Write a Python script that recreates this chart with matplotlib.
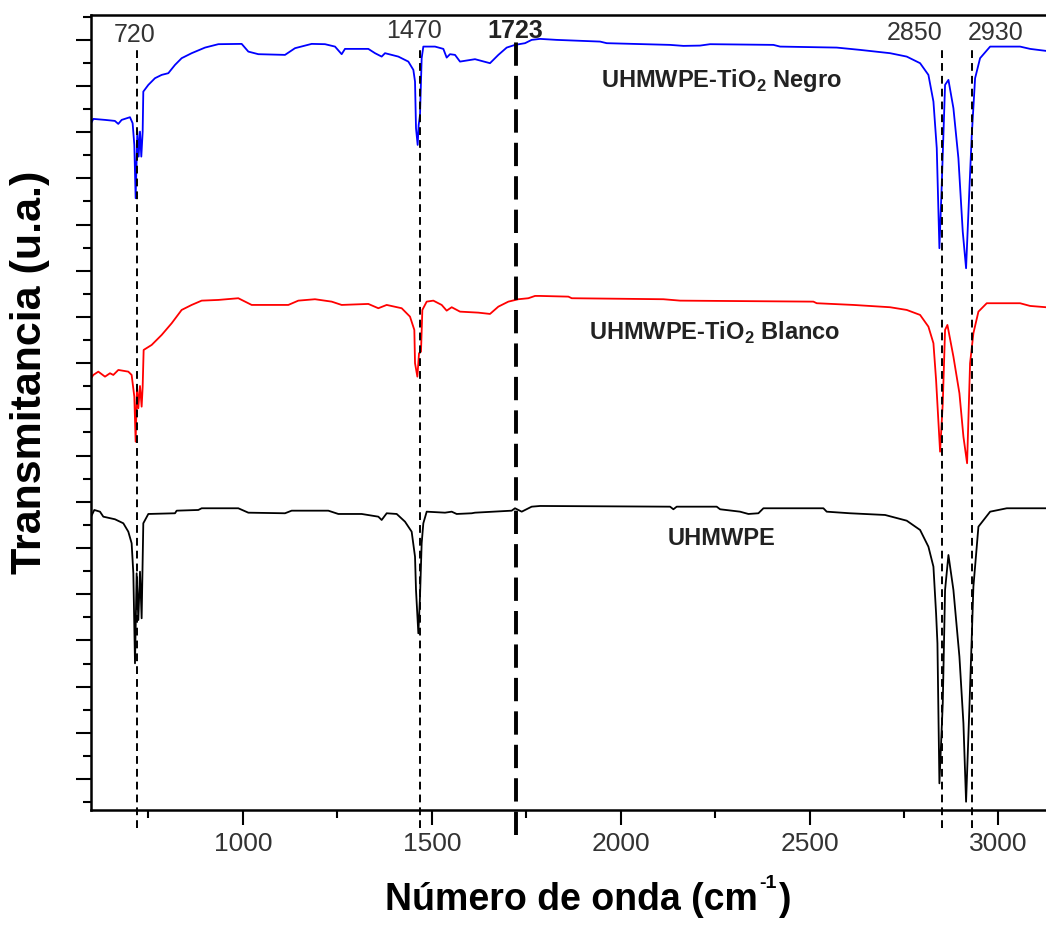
import matplotlib
matplotlib.use("Agg")
import matplotlib.pyplot as plt
from matplotlib.ticker import MultipleLocator

plt.rcParams["font.family"] = ["Liberation Sans", "DejaVu Sans"]
plt.rcParams["mathtext.fontset"] = "custom"
plt.rcParams["mathtext.rm"] = "Liberation Sans"
plt.rcParams["mathtext.bf"] = "Liberation Sans:bold"

# espectros FTIR (transmitancia en unidades arbitrarias, ya desplazados)
wn_negro = [598, 604, 635, 661, 670, 679, 701, 708, 712.5, 716, 720.5, 724, 727.5, 731,
            734.6, 736.3, 749.6, 767.2, 784.9, 802.5, 820.2, 837.8, 864.3, 899.6, 934.9,
            996.7, 1014.3, 1040.8, 1111.4, 1137.9, 1182, 1217.3, 1243.8, 1261.4, 1270.2,
            1332, 1349.7, 1367.3, 1376.2, 1411.4, 1437.9, 1451.2, 1455.6, 1458.2, 1462.6,
            1465.3, 1468.8, 1473.2, 1477.6, 1508.5, 1530.6, 1539.4, 1548.2, 1561.5, 1574.7,
            1614.4, 1654.1, 1676.2, 1698.3, 1720.3, 1746.8, 1764.4, 1786.6, 1830.7, 1945.5,
            1963.1, 2130.8, 2166.1, 2210.2, 2236.7, 2404.4, 2422, 2572, 2633.8, 2713.2,
            2757.3, 2792.7, 2814.7, 2828, 2836.8, 2843.8, 2850, 2858.8, 2867.7, 2880.9,
            2894.1, 2905.6, 2914.4, 2923.3, 2929.5, 2938.3, 2951.5, 2978.1, 3057.4, 3083.9,
            3126]
t_negro = [655.7, 660, 659, 658, 655, 659, 661.7, 655.7, 634, 580.7, 647.3, 622.3, 647.3, 622.3,
           647.3, 687.3, 694, 700.7, 704, 705.7, 714, 720.7, 725.7, 731.3, 734.7,
           735, 727.3, 724.7, 724, 730.7, 735, 734.7, 732.3, 724.7, 730,
           730, 725.7, 722.3, 725.7, 722.3, 717.3, 709, 697.3, 650.7, 634,
           654, 664, 720.7, 732.3, 732.3, 730, 721.3, 724.7, 724, 717.3,
           719.7, 715.7, 724, 731.3, 734, 735.7, 739, 740, 739, 737.3,
           735.7, 734, 733, 733.3, 734.7, 734, 732.3, 731.3, 729, 725.7,
           722.3, 715.7, 704, 677.3, 630.7, 530.7, 594, 694, 699, 670.7,
           620.7, 547.3, 510.7, 590.7, 644, 700.7, 720.7, 732.3, 732.3, 730,
           728]

wn_blanco = [598, 604, 617.2, 634.9, 648.1, 656.9, 670.2, 696.6, 705.4, 712.5, 716, 719.6,
             723.1, 727.5, 731.9, 734.6, 737.2, 758.4, 784.9, 811.4, 837.8, 864.3, 890.8,
             934.9, 987.8, 1023.2, 1120.2, 1146.7, 1190.8, 1235, 1261.4, 1332, 1358.5,
             1380.6, 1420.3, 1442.3, 1453.8, 1455.6, 1461.8, 1466.2, 1471.4, 1475, 1486.5,
             1504.1, 1526.2, 1539.4, 1552.7, 1574.7, 1623.2, 1654.1, 1676.2, 1702.7, 1729.2,
             1755.6, 1773.3, 1786.6, 1861.6, 1870.4, 2113.1, 2157.3, 2510.2, 2519.1, 2616.1,
             2713.2, 2757.3, 2792.7, 2814.7, 2828, 2835, 2845.6, 2852.7, 2858.8, 2865,
             2880.9, 2896.8, 2907.4, 2917.1, 2925, 2933.8, 2947.1, 2969.1, 3057.4, 3083.9,
             3126]
t_blanco = [400.7, 404, 407.3, 402.3, 405.7, 404, 409, 407.3, 404, 382.3, 337.3, 392.3,
            370.7, 393, 372.3, 392.3, 429, 434, 444, 455.7, 469, 474, 478.3,
            479, 480.7, 474, 474, 478.3, 479.7, 477.3, 474, 475, 470.7,
            474, 470.7, 462.3, 449, 415.7, 402.3, 425.7, 427.3, 469, 477.3,
            478.3, 474, 468.3, 471.7, 467.3, 466.3, 465, 472.3, 477.3, 479.7,
            480.7, 483, 483, 482.3, 480.7, 479.7, 478.3, 477.3, 475.7, 474,
            471.7, 469, 464, 452.3, 435.7, 399, 327.3, 375.7, 449, 454,
            422.3, 385.7, 342.3, 315.7, 415.7, 445.7, 467.3, 475.7, 475.7, 473,
            471.7]

wn_pe = [598, 606.6, 621.6, 630.4, 661.3, 683.4, 696.6, 705.4, 709.9, 714.3, 718.7, 723.1,
         727.5, 731.9, 736.3, 749.6, 820.2, 824.6, 881.9, 890.8, 987.8, 1014.3, 1111.4,
         1129, 1226.1, 1252.6, 1314.4, 1358.5, 1367.3, 1380.6, 1407.1, 1429.1, 1446.7,
         1455.6, 1458.2, 1464.4, 1468.8, 1473.2, 1477.6, 1486.5, 1535, 1552.7, 1565.9,
         1605.6, 1614.4, 1711.5, 1720.3, 1738, 1764.4, 1786.6, 2130.8, 2139.6, 2148.4,
         2254.3, 2263.2, 2316.1, 2338.2, 2364.6, 2377.9, 2536.7, 2545.5, 2607.3, 2700,
         2757.3, 2792.7, 2814.7, 2828, 2835, 2838.6, 2843.8, 2852.7, 2858.8, 2867.7,
         2880.9, 2896.8, 2907.4, 2914.4, 2923.3, 2929.5, 2933.8, 2947.1, 2978.1, 3022.2,
         3126]
t_pe = [262.3, 269, 267.3, 262.3, 259.7, 255.7, 247.3, 235.7, 205.7, 115.7, 205.7, 159,
        207.3, 160.7, 255.7, 265, 265.7, 268.3, 269, 270.7, 270.7, 266.3, 265.7,
        268.3, 268.3, 265, 265, 262.3, 259, 265.7, 265, 257.3, 247.3,
        222.3, 189, 145.7, 182.3, 235.7, 255.7, 267.3, 266.3, 267.3, 265,
        265.7, 266.3, 268.3, 270.7, 267.3, 272.3, 273, 272.3, 269.7, 272.3,
        272.3, 269.7, 267.3, 265, 265.7, 270.7, 270.7, 267.3, 265.7, 264,
        258.3, 249, 232.3, 212.3, 165.7, 135.7, -4.3, 75.7, 189, 224,
        189, 122.3, 55.7, -22.7, 72.3, 142.3, 192.3, 252.3, 267.3, 270.7,
        270.7]

# bandas marcadas
bandas = [720, 1470, 2850, 2930]
banda_co = 1723

fig = plt.figure(figsize=(10.46, 9.30), dpi=100)
ax = fig.add_axes([0.0867, 0.129, 0.9133, 0.855])

ax.plot(wn_negro, t_negro, color="#0000ff", lw=1.3)
ax.plot(wn_blanco, t_blanco, color="#ff0000", lw=1.3)
ax.plot(wn_pe, t_pe, color="black", lw=1.3)

for b in bandas:
    ax.plot([b, b], [-49, 730], color="black", lw=1.4, ls=(0, (4, 2.6)), clip_on=False)
ax.plot([banda_co, banda_co], [-56, 737], color="black", lw=2.8, ls=(0, (6, 2.6)), clip_on=False)

txt = dict(fontsize=18, color="#333333", va="center")
ax.text(714, 744, "720", ha="center", **txt)
ax.text(1453, 748, "1470", ha="center", **txt)
ax.text(1720, 748, "1723", ha="center", fontweight="bold", fontsize=18, color="#222222", va="center")
ax.text(2853, 746, "2850", ha="right", **txt)
ax.text(2920, 746, "2930", ha="left", **txt)

lab = dict(fontsize=17, fontweight="bold", color="#222222", ha="center", va="baseline")
ax.text(2266, 692, r"UHMWPE-TiO$_{\mathbf{2}}$ Negro", **lab)
ax.text(2250, 439, r"UHMWPE-TiO$_{\mathbf{2}}$ Blanco", **lab)
ax.text(2267, 234, "UHMWPE", **lab)

ax.set_xlim(597, 3126)
ax.set_ylim(-31, 764)
ax.xaxis.set_major_locator(MultipleLocator(500))
ax.xaxis.set_minor_locator(MultipleLocator(250))
ax.yaxis.set_major_locator(MultipleLocator(46.2))
ax.yaxis.set_minor_locator(MultipleLocator(23.1))
ax.tick_params(axis="both", which="major", direction="out", length=11, width=1.5)
ax.tick_params(axis="both", which="minor", direction="out", length=5.5, width=1.5)
ax.tick_params(axis="x", labelsize=19, labelcolor="#333333", pad=5)
ax.tick_params(axis="y", labelleft=False)

ax.spines["right"].set_visible(False)
for s in ["left", "bottom", "top"]:
    ax.spines[s].set_linewidth(1.8)

# etiqueta del eje x: texto + superíndice pequeño + paréntesis, encadenados
xl = fig.text(385 / 1046, 1 - 900 / 930, "Número de onda (cm",
              fontsize=27, fontweight="bold", ha="left", va="center")
sup = ax.annotate("-1", xy=(1, 0.93), xycoords=xl, xytext=(1, 7), textcoords="offset points",
                  fontsize=14, fontweight="bold", ha="left", va="top", annotation_clip=False)
ax.annotate(")", xy=(1, 0), xycoords=(sup, xl), xytext=(1, 0), textcoords="offset points",
            fontsize=27, fontweight="bold", ha="left", va="bottom", annotation_clip=False)

fig.text(30 / 1046, 1 - 372 / 930, "Transmitancia (u.a.)", rotation=90,
         fontsize=31, fontweight="bold", ha="center", va="center")

fig.savefig("out.png", dpi=100)
